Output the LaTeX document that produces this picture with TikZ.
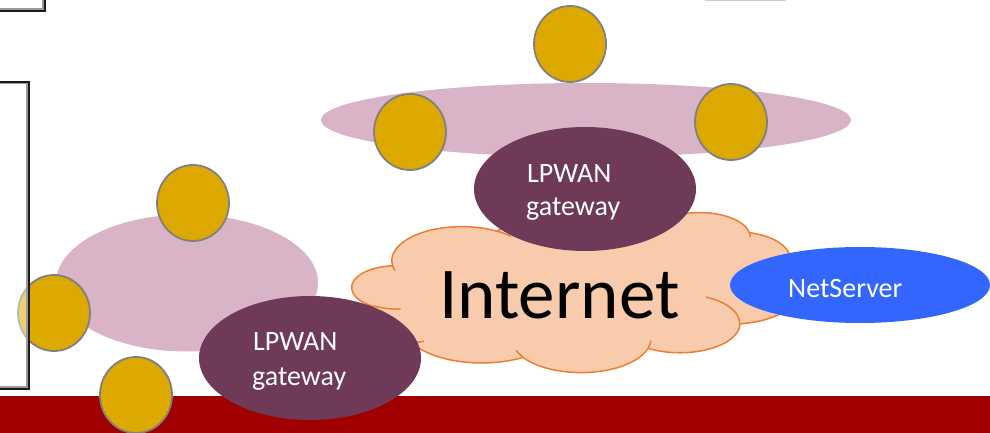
\documentclass[tikz,border=0pt]{standalone}
\usepackage{fontspec}
\setmainfont{Carlito}
\usetikzlibrary{shapes.geometric}

\definecolor{barred}{HTML}{A00000}
\definecolor{lilac}{HTML}{D8B4C6}
\definecolor{gold}{HTML}{DDA900}
\definecolor{devedge}{HTML}{808080}
\definecolor{plum}{HTML}{6E3A58}
\definecolor{peach}{HTML}{F8CBAD}
\definecolor{cloudedge}{HTML}{ED7D31}
\definecolor{netblue}{HTML}{3366FF}
\definecolor{frame}{HTML}{1A1A1A}
\definecolor{frameshade}{HTML}{9A9A9A}

% Elliptical arc given by radii and a start/sweep angle measured as the
% direction of the ray from the centre (converted to parametric angles).
\newcommand\ooArc[4]{%
  \pgfextra{%
    \pgfmathparse{atan2((#1)*sin(#3),(#2)*cos(#3))}\global\let\ooTs\pgfmathresult
    \pgfmathparse{atan2((#1)*sin((#3)+(#4)),(#2)*cos((#3)+(#4)))}\global\let\ooTe\pgfmathresult
    \pgfmathparse{mod(\ooTe-\ooTs+720,360)}\global\let\ooTd\pgfmathresult
  }%
  arc[start angle=\ooTs, delta angle=\ooTd, x radius=#1, y radius=#2]%
}

\begin{document}
\begin{tikzpicture}[x=1pt, y=-1pt,
  haze/.style={ellipse, inner sep=0pt, fill=lilac},
  dev/.style={ellipse, inner sep=0pt, minimum width=72pt, minimum height=76pt,
              fill=gold, draw=devedge, line width=1.8pt},
  gw/.style={ellipse, inner sep=0pt, minimum width=222pt, minimum height=124pt, fill=plum},
  gwtext/.style={inner sep=0pt, anchor=base west, text=white,
                 font=\fontsize{28}{34}\selectfont},
  cloudline/.style={draw=cloudedge, line width=1.5pt},
  panelfill/.style={fill=white, fill opacity=0.45},
  paneledge/.style={draw=frame, line width=1.8pt},
  panelshade/.style={draw=frameshade, line width=1.6pt}]

\useasboundingbox (0,0) rectangle (990,433);

% bottom band
\fill[barred] (0,396) rectangle (990,433);

% coverage areas of the two gateways
\node[haze, minimum width=530pt, minimum height=74pt] (cellA) at (586,120) {};
\node[haze, minimum width=262pt, minimum height=137pt] (cellB) at (187,283) {};

% the Internet cloud
\begin{scope}[shift={(352,212)}, x=1.037037pt, y=-0.370370pt]
  \draw[cloudline, fill=peach] (39.00,143.70)
    \ooArc{67.53}{91.90}{-190.4875}{123.7805}
    \ooArc{53.33}{72.67}{-144.1024}{89.9452}
    \ooArc{43.65}{59.45}{-145.8079}{99.7230}
    \ooArc{48.57}{65.95}{-130.9861}{117.2417}
    \ooArc{53.33}{72.73}{-78.7089}{109.0269}
    \ooArc{67.75}{92.20}{-46.2673}{130.2690}
    \ooArc{57.85}{78.67}{0.6250}{114.0333}
    \ooArc{67.52}{92.15}{22.4516}{115.1726}
    \ooArc{77.20}{105.43}{66.2426}{75.7110}
    \ooArc{43.60}{59.18}{-274.9421}{146.7356}
    \ooArc{43.45}{59.45}{-246.8285}{152.5189}
    -- cycle;
  \draw[cloudline]
    (46.93,261.77) \ooArc{43.45}{59.45}{86.7420}{26.4295}
    (69.28,348.99) \ooArc{43.60}{59.18}{73.6105}{11.4475}
    (164.78,390.90) \ooArc{67.52}{92.15}{137.6242}{14.0811}
    (288.27,347.51) \ooArc{67.52}{92.15}{6.4533}{15.9984}
    (341.29,229.54) \ooArc{57.85}{78.67}{-70.2924}{70.9174}
    (417.98,153.54) \ooArc{53.33}{72.73}{30.3180}{27.7515}
    (383.24,54.26) \ooArc{48.57}{65.95}{-13.7443}{14.8589}
    (290.78,39.52) \ooArc{48.57}{65.95}{-149.1815}{18.1954}
    (221.41,47.20) \ooArc{43.65}{59.45}{-163.4943}{17.6864}
    (140.00,51.92) \ooArc{67.53}{91.90}{-66.7070}{12.3194}
    (41.27,157.89) \ooArc{67.53}{91.90}{157.6544}{11.8582};
\end{scope}
\node[inner sep=0pt, anchor=base west, font=\fontsize{73}{82}\selectfont] (inet) at (439,318) {Internet};

% end devices
\node[dev] (devA1) at (570,44) {};
\node[dev] (devA2) at (410,132) {};
\node[dev] (devA3) at (731,122) {};
\node[dev] (devB1) at (193,203) {};
\node[dev] (devB2) at (54,313) {};
\node[dev] (devB3) at (136,395) {};

% gateways
\node[gw] (gwA) at (585,189) {};
\node[gwtext] (gwAtop) at (527,182) {LPWAN};
\node[gwtext] (gwAbot) at (526,215) {gateway};
\node[gw] (gwB) at (310,358) {};
\node[gwtext] (gwBtop) at (253,350) {LPWAN};
\node[gwtext] (gwBbot) at (252,385) {gateway};

% network server
\node[ellipse, inner sep=0pt, minimum width=260pt, minimum height=76pt, fill=netblue] (ns) at (860,285) {};
\node[gwtext] (nstext) at (788,297) {NetServer};

% frames at the left border: translucent body, shaded inner rim, dark outer rim
\fill[panelfill] (-10,82) rectangle (29,389);
\draw[panelshade] (-10,83.5) -- (26.8,83.5) -- (26.8,387.2) -- (-10,387.2);
\draw[paneledge] (-10,82) -- (29,82) -- (29,389) -- (-10,389);
\fill[panelfill] (-10,-10) rectangle (45,11);
\draw[panelshade] (42.8,-10) -- (42.8,9.2) -- (-10,9.2);
\draw[paneledge] (45,-10) -- (45,11) -- (-10,11);
\draw[gray!40, line width=1.2pt] (705,0.6) -- (786,0.6);
\end{tikzpicture}
\end{document}
